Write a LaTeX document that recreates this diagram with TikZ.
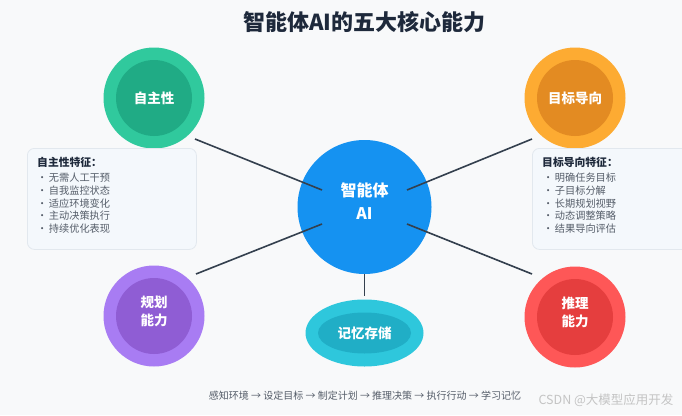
\documentclass[tikz,border=0pt]{standalone}
\usepackage{fontspec}
\setmainfont{Noto Sans CJK SC}
\usetikzlibrary{shapes.geometric}
\definecolor{bgc}{HTML}{F8F9FA}
\definecolor{ttl}{HTML}{1E293B}
\definecolor{grnA}{HTML}{30C99D}
\definecolor{grnB}{HTML}{20AB85}
\definecolor{orgA}{HTML}{FDAB32}
\definecolor{orgB}{HTML}{E38B22}
\definecolor{bluC}{HTML}{1592F1}
\definecolor{purA}{HTML}{A87CF3}
\definecolor{purB}{HTML}{8F5DD4}
\definecolor{redA}{HTML}{FE5757}
\definecolor{redB}{HTML}{E53E3E}
\definecolor{cyaA}{HTML}{2EC7DC}
\definecolor{cyaB}{HTML}{20AEC6}
\definecolor{lnk}{HTML}{34404E}
\definecolor{cardF}{HTML}{F4F8FC}
\definecolor{cardD}{HTML}{E2E8EE}
\definecolor{itm}{HTML}{555D69}
\definecolor{wmk}{HTML}{C4C4C4}
\newcommand{\itembul}{•\hspace{1.5pt}}
\begin{document}
\begin{tikzpicture}[x=1pt,y=-1pt,
  ring/.style={circle,minimum size=101pt,inner sep=0pt},
  hub/.style={circle,minimum size=76pt,inner sep=0pt,text=white,align=center,font=\fontsize{13.5}{18}\selectfont\bfseries},
  link/.style={draw=lnk,line width=1.6pt},
  card/.style={draw=cardD,fill=cardF,rounded corners=7pt,line width=0.8pt,anchor=north west,minimum height=101pt,inner sep=0pt},
  cardhead/.style={anchor=west,inner sep=0pt,text=ttl,font=\fontsize{10.8}{14}\selectfont\bfseries},
  carditems/.style={anchor=north west,inner sep=0pt,text=itm,align=left,font=\fontsize{10.2}{12.7}\selectfont}]
  \clip (0,0) rectangle (682,415);
  \fill[bgc] (0,0) rectangle (682,415);
  \node[inner sep=0pt,text=ttl,font=\fontsize{22}{26}\selectfont\bfseries] (title) at (364.5,22.5) {智能体AI的五大核心能力};

  % five abilities round the core
  \node[ring,fill=grnA] (autoO) at (154,98) {}; \node[hub,fill=grnB] (auto) at (autoO) {自主性};
  \node[ring,fill=orgA] (goalO) at (575,98) {}; \node[hub,fill=orgB] (goal) at (goalO) {目标导向};
  \node[ring,fill=purA] (planO) at (154,316) {}; \node[hub,fill=purB] (plan) at (planO) {规划\\能力\\[-7pt]};
  \node[ring,fill=redA] (reasO) at (575,317) {}; \node[hub,fill=redB] (reas) at (reasO) {推理\\能力\\[-7pt]};
  \node[circle,minimum size=134pt,inner sep=0pt,fill=bluC,text=white,align=center,font=\fontsize{16}{23}\selectfont\bfseries] (core) at (364.5,207) {智能体\\AI\\[-12pt]};
  \node[ellipse,minimum width=118pt,minimum height=67pt,inner sep=0pt,fill=cyaA] (memO) at (364.5,333) {};
  \node[ellipse,minimum width=93pt,minimum height=41pt,inner sep=0pt,fill=cyaB,text=white,font=\fontsize{13.5}{18}\selectfont\bfseries] (mem) at (memO) {记忆存储};

  % feature cards
  \node[card,minimum width=169pt] (autoCard) at (27,148) {};
  \node[cardhead] (autoHead) at (37,162) {自主性特征：};
  \node[carditems] (autoList) at (37,173) {\itembul 无需人工干预\\\itembul 自我监控状态\\\itembul 适应环境变化\\\itembul 主动决策执行\\\itembul 持续优化表现};
  \node[card,minimum width=170pt] (goalCard) at (532,148) {};
  \node[cardhead] (goalHead) at (542,162) {目标导向特征：};
  \node[carditems] (goalList) at (543,173) {\itembul 明确任务目标\\\itembul 子目标分解\\\itembul 长期规划视野\\\itembul 动态调整策略\\\itembul 结果导向评估};

  % connectors
  \coordinate (autoEnd) at (195,139); \coordinate (coreNW) at (322,190);
  \coordinate (planEnd) at (196,274); \coordinate (coreSW) at (322,224);
  \coordinate (goalEnd) at (532,139); \coordinate (coreNE) at (407,190);
  \coordinate (reasEnd) at (532,274); \coordinate (coreSE) at (407,224);
  \draw[link] (autoEnd) -- (coreNW); \draw[link] (planEnd) -- (coreSW);
  \draw[link] (goalEnd) -- (coreNE); \draw[link] (reasEnd) -- (coreSE);
  \draw[link] (core.south) -- ([yshift=3pt]memO.north);

  \node[inner sep=0pt,text=itm,font=\fontsize{10}{12}\selectfont] (flow) at (365,396) {感知环境 → 设定目标 → 制定计划 → 推理决策 → 执行行动 → 学习记忆};
  \node[inner sep=0pt,text=wmk,font=\fontsize{12.5}{14}\selectfont] (mark) at (606,400) {CSDN @大模型应用开发};
\end{tikzpicture}
\end{document}
